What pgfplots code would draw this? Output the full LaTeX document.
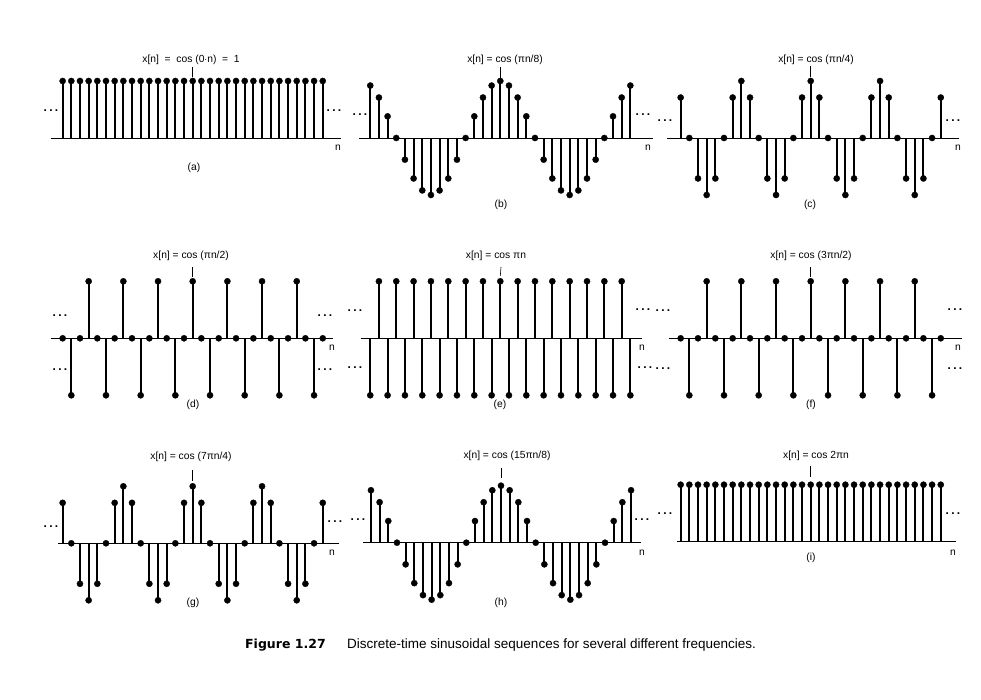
\documentclass[border=0pt]{standalone}
\usepackage{pgfplots}
\pgfplotsset{compat=1.18}
\usepackage{pgfplotstable}
\usepackage{fontspec}
\setmainfont{Liberation Sans}
\newfontfamily\capfont{DejaVu Sans}
\newfontfamily\capnarrow{Liberation Sans}

\pgfplotstableread{
n one c8 c4 c2 alt
-15 1 0.92 0.71 0 -1
-14 1 0.71 0 -1 1
-13 1 0.38 -0.71 0 -1
-12 1 0 -1 1 1
-11 1 -0.38 -0.71 0 -1
-10 1 -0.71 0 -1 1
-9 1 -0.92 0.71 0 -1
-8 1 -1 1 1 1
-7 1 -0.92 0.71 0 -1
-6 1 -0.71 0 -1 1
-5 1 -0.38 -0.71 0 -1
-4 1 0 -1 1 1
-3 1 0.38 -0.71 0 -1
-2 1 0.71 0 -1 1
-1 1 0.92 0.71 0 -1
0 1 1 1 1 1
1 1 0.92 0.71 0 -1
2 1 0.71 0 -1 1
3 1 0.38 -0.71 0 -1
4 1 0 -1 1 1
5 1 -0.38 -0.71 0 -1
6 1 -0.71 0 -1 1
7 1 -0.92 0.71 0 -1
8 1 -1 1 1 1
9 1 -0.92 0.71 0 -1
10 1 -0.71 0 -1 1
11 1 -0.38 -0.71 0 -1
12 1 0 -1 1 1
13 1 0.38 -0.71 0 -1
14 1 0.71 0 -1 1
15 1 0.92 0.71 0 -1
}\sigdata

\pgfplotsset{
  panel/.style={hide axis, clip=false, disabledatascaling, x=8.67pt, y=57pt,
    xmin=-15, xmax=15, ymin=-1, ymax=1, anchor=origin},
  stem/.style={ycomb, black, line width=2pt, mark=*, mark size=3.1pt,
    mark options={line width=0.3pt, fill=black}},
}
\tikzset{
  lbl/.style={font=\fontsize{10.3}{12}\selectfont, inner sep=0pt},
  dts/.style={font=\fontsize{12}{12}\selectfont\bfseries, inner sep=0pt, anchor=base},
  ptr/.style={line width=0.6pt},
}
% pixel helpers: image px (x,y) -> (x pt, 700-y pt)
\newcommand\px[2]{(#1pt,\fpeval{700-#2}pt)}
\newcommand\Dots[2]{\node[dts] at (#1pt,\fpeval{700-#2-2.8}pt) {.\hspace{2.3pt}.\hspace{2.3pt}.};}

\begin{document}
\begin{tikzpicture}
\useasboundingbox (0,0) rectangle (981pt,700pt);

% ---------- row 1 ----------
\begin{axis}[panel, at={(192.7pt,562pt)}]
  \draw[line width=0.9pt] (axis cs:-16.4,0) -- (axis cs:17.1,0);
  \addplot[stem] table[x=n,y=one] {\sigdata};
\end{axis}
\begin{axis}[panel, at={(500.3pt,562pt)}]
  \draw[line width=0.9pt] (axis cs:-16.3,0) -- (axis cs:17.6,0);
  \addplot[stem] table[x=n,y=c8] {\sigdata};
\end{axis}
\begin{axis}[panel, at={(810.7pt,562pt)}]
  \draw[line width=0.9pt] (axis cs:-16.6,0) -- (axis cs:17.1,0);
  \addplot[stem] table[x=n,y=c4] {\sigdata};
\end{axis}

% ---------- row 2 ----------
\begin{axis}[panel, at={(192.7pt,361.7pt)}]
  \draw[line width=0.9pt] (axis cs:-16.4,0) -- (axis cs:16.2,0);
  \addplot[stem] table[x=n,y=c2] {\sigdata};
\end{axis}
\begin{axis}[panel, at={(500.3pt,361.7pt)}]
  \draw[line width=0.9pt] (axis cs:-16.1,0) -- (axis cs:16.4,0);
  \addplot[stem] table[x=n,y=alt] {\sigdata};
\end{axis}
\begin{axis}[panel, at={(810.7pt,361.7pt)}]
  \draw[line width=0.9pt] (axis cs:-16.4,0) -- (axis cs:17.4,0);
  \addplot[stem] table[x=n,y=c2] {\sigdata};
\end{axis}

% ---------- row 3 ----------
\begin{axis}[panel, at={(192.7pt,156.7pt)}]
  \draw[line width=0.9pt] (axis cs:-15.5,0) -- (axis cs:16.9,0);
  \addplot[stem] table[x=n,y=c4] {\sigdata};
\end{axis}
\begin{axis}[panel, at={(501pt,157.3pt)}]
  \draw[line width=0.9pt] (axis cs:-15.9,0) -- (axis cs:16.2,0);
  \addplot[stem] table[x=n,y=c8] {\sigdata};
\end{axis}
\begin{axis}[panel, at={(810.7pt,158.3pt)}]
  \draw[line width=0.9pt] (axis cs:-15.4,0) -- (axis cs:16.7,0);
  \addplot[stem] table[x=n,y=one] {\sigdata};
\end{axis}

% ---------- titles and pointers ----------
\node[lbl] at \px{191}{60} {x[n]\ \ =\ \ cos (0$\cdot$n)\ \ =\ \ 1};
\draw[ptr] \px{192.7}{67} -- \px{192.7}{77};
\node[lbl] at \px{505}{60} {x[n] = cos (πn/8)};
\draw[ptr] \px{500.3}{67} -- \px{500.3}{78};
\node[lbl] at \px{816}{60} {x[n] = cos (πn/4)};
\draw[ptr] \px{810.7}{66} -- \px{810.7}{77};

\node[lbl] at \px{191}{256} {x[n] = cos (πn/2)};
\draw[ptr] \px{192.7}{267} -- \px{192.7}{277};
\node[lbl] at \px{496}{256} {x[n] = cos πn};
\draw[ptr] \px{501}{267} -- \px{500.3}{276};
\node[lbl] at \px{811}{256} {x[n] = cos (3πn/2)};
\draw[ptr] \px{810.7}{267} -- \px{810.7}{277};

\node[lbl] at \px{191}{457} {x[n] = cos (7πn/4)};
\draw[ptr] \px{192.7}{470} -- \px{192.7}{481};
\node[lbl] at \px{507}{456} {x[n] = cos (15πn/8)};
\draw[ptr] \px{501}{468} -- \px{501}{478};
\node[lbl] at \px{816}{456} {x[n] = cos 2πn};
\draw[ptr] \px{810.7}{466} -- \px{810.7}{477};

% ---------- n labels ----------
\node[lbl] at \px{338}{148} {n};
\node[lbl] at \px{648}{148} {n};
\node[lbl] at \px{958}{148} {n};
\node[lbl] at \px{332}{348} {n};
\node[lbl] at \px{642}{348} {n};
\node[lbl] at \px{958}{348} {n};
\node[lbl] at \px{332}{553} {n};
\node[lbl] at \px{642}{553} {n};
\node[lbl] at \px{953}{553} {n};

% ---------- sub labels ----------
\node[lbl] at \px{194}{168} {(a)};
\node[lbl] at \px{501}{205} {(b)};
\node[lbl] at \px{810}{205} {(c)};
\node[lbl] at \px{193}{405} {(d)};
\node[lbl] at \px{500}{405} {(e)};
\node[lbl] at \px{811}{405} {(f)};
\node[lbl] at \px{193}{603} {(g)};
\node[lbl] at \px{501}{603} {(h)};
\node[lbl] at \px{811}{558} {(i)};

% ---------- continuation dots ----------
\Dots{51}{109} \Dots{334}{109}
\Dots{360}{113} \Dots{643}{113}
\Dots{665}{119} \Dots{953}{119}
\Dots{60}{314} \Dots{60}{368} \Dots{325}{314} \Dots{325}{368}
\Dots{355}{309} \Dots{355}{366} \Dots{643}{308} \Dots{645}{366}
\Dots{663}{309} \Dots{663}{367} \Dots{955}{308} \Dots{955}{367}
\Dots{51}{525} \Dots{335}{520}
\Dots{358}{518} \Dots{642}{518}
\Dots{665}{512} \Dots{953}{512}

% ---------- caption ----------
\node[inner sep=0pt, anchor=west] at \px{245}{645} {\capfont\bfseries\fontsize{12.5}{14}\selectfont Figure 1.27};
\node[inner sep=0pt, anchor=west] at \px{347}{645} {\capnarrow\fontsize{13.5}{15}\selectfont Discrete-time sinusoidal sequences for several different frequencies.};
\end{tikzpicture}
\end{document}
